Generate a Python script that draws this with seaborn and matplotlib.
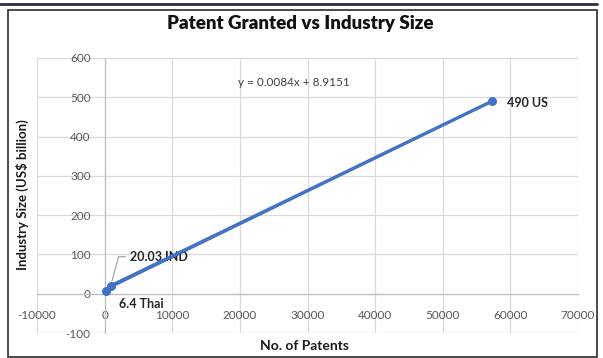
import matplotlib
matplotlib.use("Agg")
import matplotlib.pyplot as plt
import seaborn as sns
import pandas as pd
from matplotlib.patches import Rectangle
from matplotlib.lines import Line2D

# Data: patents granted vs industry size
countries = ["Thai", "IND", "US"]
patents = [250, 900, 57272]
industry_size = [6.4, 20.03, 490]
point_labels = ["6.4 Thai", "20.03 IND", "490 US"]

# Linear trendline coefficients
slope = 0.0084
intercept = 8.9151

x_ticks = [-10000, 0, 10000, 20000, 30000, 40000, 50000, 60000, 70000]
y_ticks = [-100, 0, 100, 200, 300, 400, 500, 600]

sns.set_theme(style="white")
plt.rcParams["font.family"] = ["Lato", "DejaVu Sans"]
plt.rcParams["axes.unicode_minus"] = False

W, H = 603, 358
fig = plt.figure(figsize=(W / 100, H / 100), dpi=100)
ax = fig.add_axes([37 / W, (H - 333) / H, (578 - 37) / W, (333 - 58) / H])

blue = "#4472C4"
df = pd.DataFrame({"country": countries, "patents": patents, "size": industry_size})

# trendline
tx = [min(patents), max(patents)]
ty = [slope * v + intercept for v in tx]
ax.plot(tx, ty, color=blue, lw=1.6, zorder=3)

sns.lineplot(data=df, x="patents", y="size", ax=ax, color=blue, lw=2.4,
             marker="o", markersize=6.5, markeredgewidth=0, sort=True, zorder=4)

ax.set_xlim(-10000, 70000)
ax.set_ylim(-100, 600)
ax.set_xticks(x_ticks)
ax.set_yticks(y_ticks)
ax.grid(True, color="#D9D9D9", lw=0.9)
ax.set_axisbelow(True)

for s in ["top", "right"]:
    ax.spines[s].set_visible(False)
ax.spines["left"].set_position(("data", 0))
ax.spines["bottom"].set_position(("data", 0))
for s in ["left", "bottom"]:
    ax.spines[s].set_color("#BFBFBF")
    ax.spines[s].set_linewidth(0.9)

ax.tick_params(axis="both", length=0, labelsize=8.5, labelcolor="#595959")
ax.tick_params(axis="x", pad=12)
ax.tick_params(axis="y", pad=10)
ax.set_xlabel("")
ax.set_ylabel("")

# axis titles and chart title
fig.text(305 / W, 1 - 346 / H, "No. of Patents", ha="center", va="center",
         fontsize=10, fontweight="bold", color="#1a1a1a")
fig.text(22 / W, 1 - 195 / H, "Industry Size (US$ billion)", ha="center", va="center",
         rotation=90, fontsize=9.5, fontweight="bold", color="#1a1a1a")
fig.text(300 / W, 1 - 23 / H, "Patent Granted vs Industry Size", ha="center", va="center",
         fontsize=13.5, fontweight="heavy", color="#111111")

# trendline equation
ax.text((294 - 37) / (578 - 37), (333 - 83) / (333 - 58),
        f"y = {slope}x + {intercept}", transform=ax.transAxes,
        ha="center", va="center", fontsize=8.5, color="#404040")

# point labels
lbl_style = dict(fontsize=9, fontweight="bold", color="#262626")
ax.annotate(point_labels[2], (patents[2], industry_size[2]), xytext=(11, -1),
            textcoords="offset points", ha="left", va="center", **lbl_style)
ax.annotate(point_labels[0], (patents[0], industry_size[0]), xytext=(9, -9),
            textcoords="offset points", ha="left", va="center", **lbl_style)
ax.annotate(point_labels[1], (patents[1], industry_size[1]), xytext=(14, 21),
            textcoords="offset points", ha="left", va="center",
            arrowprops=dict(arrowstyle="-", color="#A6A6A6", lw=0.9,
                            connectionstyle="angle,angleA=0,angleB=75,rad=0",
                            relpos=(0, 0.5), shrinkA=1, shrinkB=4),
            **lbl_style)

# chart frame
fig.add_artist(Rectangle((8 / W, 1 / H), (597 - 8) / W, (356 - 9) / H,
                         transform=fig.transFigure, fill=False, ec="#3a3a3a", lw=1.3))
fig.add_artist(Line2D([0, 597 / W], [1 - 3.5 / H, 1 - 3.5 / H],
                      transform=fig.transFigure, color="#2b2d4f", lw=2))

fig.savefig("out.png", dpi=100)
